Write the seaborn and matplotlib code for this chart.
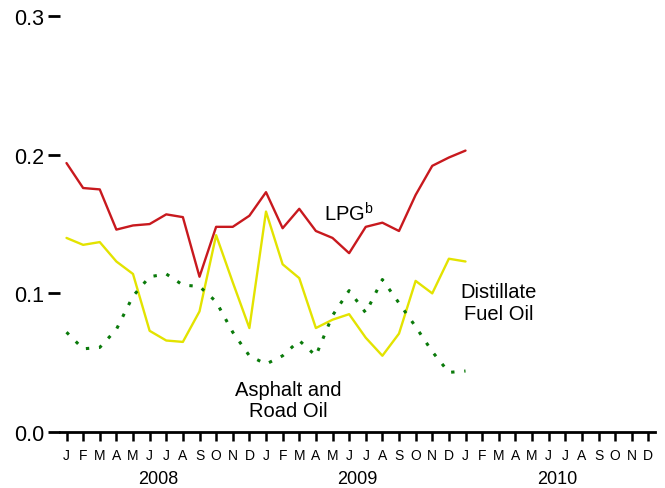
import pandas as pd
import matplotlib
matplotlib.use("Agg")
import matplotlib.pyplot as plt
import seaborn as sns

# month labels for the axis (Jan 2008 - Dec 2010)
month_letters = ["J", "F", "M", "A", "M", "J", "J", "A", "S", "O", "N", "D"] * 3
years = ["2008", "2009", "2010"]

# monthly values, Jan 2008 - Jan 2010
lpg = [0.194, 0.176, 0.175, 0.146, 0.149, 0.150, 0.157, 0.155, 0.112, 0.148, 0.148, 0.156,
       0.173, 0.147, 0.161, 0.145, 0.140, 0.129, 0.148, 0.151, 0.145, 0.171, 0.192, 0.198, 0.203]
distillate = [0.140, 0.135, 0.137, 0.123, 0.114, 0.073, 0.066, 0.065, 0.087, 0.142, 0.108, 0.075,
              0.159, 0.121, 0.111, 0.075, 0.081, 0.085, 0.068, 0.055, 0.071, 0.109, 0.100, 0.125, 0.123]
asphalt = [0.072, 0.060, 0.061, 0.074, 0.098, 0.112, 0.114, 0.106, 0.105, 0.094, 0.072, 0.055,
           0.049, 0.055, 0.066, 0.055, 0.084, 0.102, 0.086, 0.110, 0.093, 0.076, 0.058, 0.043, 0.044]

df = pd.DataFrame({"month": range(len(lpg)), "lpg": lpg,
                   "distillate": distillate, "asphalt": asphalt})

sns.set_theme(style="ticks")
plt.rcParams["font.family"] = ["Liberation Sans", "DejaVu Sans"]
plt.rcParams["text.color"] = "black"
plt.rcParams["xtick.color"] = "black"
plt.rcParams["ytick.color"] = "black"
plt.rcParams["mathtext.fontset"] = "custom"
plt.rcParams["mathtext.rm"] = "Liberation Sans"

fig = plt.figure(figsize=(6.65, 4.89), dpi=100)
ax = fig.add_axes([0.090, 0.1145, 0.895, 0.8505])

sns.lineplot(data=df, x="month", y="lpg", color="#C8191E", linewidth=1.7, ax=ax)
sns.lineplot(data=df, x="month", y="distillate", color="#E3E300", linewidth=1.7, ax=ax)
sns.lineplot(data=df, x="month", y="asphalt", color="#0A7A0A", linewidth=2.2,
             linestyle=(0, (1.1, 3.2)), ax=ax)

ax.set_xlim(-0.4, 35.4)
ax.set_ylim(0, 0.3)
ax.set_xlabel("")
ax.set_ylabel("")

ax.set_yticks([0.0, 0.1, 0.2, 0.3])
ax.set_yticklabels(["0.0", "0.1", "0.2", "0.3"], fontsize=15.5)
ax.tick_params(axis="y", length=9, width=2, pad=2)

ax.set_xticks(range(36))
ax.set_xticklabels(month_letters, fontsize=10)
ax.tick_params(axis="x", which="major", length=6.5, width=1.8,
               direction="out", pad=5)
ax.set_xticks([5.5, 17.5, 29.5], minor=True)
ax.set_xticklabels(years, minor=True, fontsize=13)
ax.tick_params(axis="x", which="minor", length=0, pad=27)

sns.despine(ax=ax, left=True)
ax.spines["bottom"].set_linewidth(2)
ax.spines["bottom"].set_color("black")

ax.text(17.0, 0.158, "LPG$^{\\mathrm{b}}$", fontsize=14.5, ha="center", va="center")
ax.text(26.0, 0.0935, "Distillate\nFuel Oil", fontsize=14.5, ha="center", va="center",
        linespacing=1.15)
ax.text(13.35, 0.023, "Asphalt and\nRoad Oil", fontsize=14.5, ha="center", va="center",
        linespacing=1.15)

plt.savefig("out.png", dpi=100)
plt.close()
